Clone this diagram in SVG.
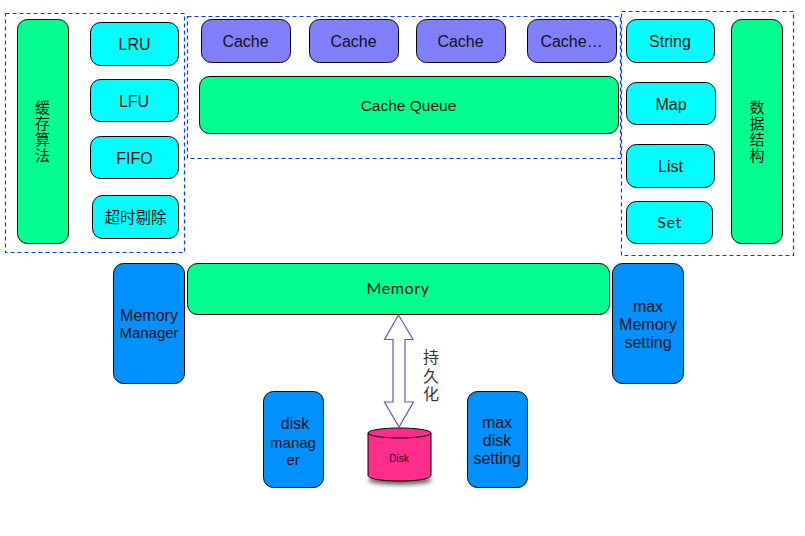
<svg xmlns="http://www.w3.org/2000/svg" width="805" height="536" viewBox="0 0 805 536">
<style>
.n{stroke:#000;stroke-width:1}
.g{fill:#00ff8f}.c{fill:#00ffff}.p{fill:#8080ff}.b{fill:#0090ff}
.d{fill:none;stroke:#0a33ff;stroke-width:1.2;stroke-dasharray:4 3}
text{font-family:"Liberation Sans","Noto Sans CJK SC",sans-serif;fill:#111;text-anchor:middle}
.t{font-size:16px}
.m{font-size:15px}
.z{font-family:"Noto Sans CJK SC","Liberation Sans",sans-serif;font-size:15px}
.v{font-family:"Noto Sans CJK SC","Liberation Sans",sans-serif;font-size:15px;writing-mode:vertical-rl;text-anchor:start;letter-spacing:1px}
.w{font-family:"Lato","Liberation Sans",sans-serif;font-size:16px;letter-spacing:.6px}
</style>
<defs>
<filter id="sh" x="-20%" y="-40%" width="140%" height="200%"><feGaussianBlur stdDeviation="2"/></filter>
</defs>
<rect width="805" height="536" fill="#fff"/>
<g id="frames">
<rect class="d" x="5.500" y="13.500" width="179" height="239"/>
<rect class="d" x="187.500" y="16.500" width="433" height="142"/>
<rect class="d" x="621.500" y="11.500" width="172" height="244"/>
</g>
<g id="connectors">
<path d="M398.500 315L413 339.500H405V402H413.500L399 427L384.500 402H393V339.500H384.500Z" fill="#fff" stroke="#6a58b0" stroke-width="1.200"/>
</g>
<g id="algo"><rect class="n g" x="17.500" y="19.500" width="51" height="224" rx="10"/>
<text class="v" x="42.500" y="100">缓存算法</text></g>
<g id="lru"><rect class="n c" x="90.500" y="22.500" width="88" height="43" rx="10"/><text class="t" x="134.500" y="50">LRU</text></g>
<g id="lfu"><rect class="n c" x="90.500" y="79.500" width="88" height="42" rx="10"/><text class="t" x="134" y="107">LFU</text></g>
<g id="fifo"><rect class="n c" x="90.500" y="136.500" width="88" height="42" rx="10"/><text class="t" x="134.500" y="164">FIFO</text></g>
<g id="timeout"><rect class="n c" x="92.500" y="195.500" width="86" height="43" rx="10"/><text class="z" x="135.500" y="223" style="font-size:15.500px">超时剔除</text></g>
<g id="cache1"><rect class="n p" x="201.500" y="19.500" width="89" height="43" rx="10"/><text class="t" x="245.500" y="47">Cache</text></g>
<g id="cache2"><rect class="n p" x="309.500" y="19.500" width="89" height="43" rx="10"/><text class="t" x="353.500" y="47">Cache</text></g>
<g id="cache3"><rect class="n p" x="416.500" y="19.500" width="89" height="43" rx="10"/><text class="t" x="460.500" y="47">Cache</text></g>
<g id="cache4"><rect class="n p" x="527.500" y="19.500" width="89" height="43" rx="10"/><text class="t" x="571.500" y="47">Cache…</text></g>
<g id="queue"><rect class="n g" x="199.500" y="76.500" width="419" height="57" rx="10"/><text class="t" x="408.500" y="111" style="font-size:15.500px">Cache Queue</text></g>
<g id="string"><rect class="n c" x="626.500" y="19.500" width="88" height="43" rx="10"/><text class="t" x="670" y="47">String</text></g>
<g id="map"><rect class="n c" x="626.500" y="82.500" width="89" height="42" rx="10"/><text class="t" x="671" y="110">Map</text></g>
<g id="list"><rect class="n c" x="626.500" y="144.500" width="88" height="43" rx="10"/><text class="t" x="670.500" y="172">List</text></g>
<g id="set"><rect class="n c" x="626.500" y="201.500" width="86" height="42" rx="10"/><text class="w" x="669.500" y="228">Set</text></g>
<g id="datastruct"><rect class="n g" x="731.500" y="19.500" width="51" height="224" rx="10"/>
<text class="v" x="757" y="100">数据结构</text></g>
<g id="memory"><rect class="n g" x="187.500" y="263.500" width="422" height="51" rx="10"/><text class="w" x="398" y="294">Memory</text></g>
<g id="memmgr"><rect class="n b" x="113.500" y="263.500" width="71" height="120" rx="10"/><text class="t" x="149" y="321">Memory</text><text class="m" x="149" y="338">Manager</text></g>
<g id="maxmem"><rect class="n b" x="612.500" y="263.500" width="71" height="120" rx="10"/><text class="t" x="648" y="312">max</text><text class="t" x="648" y="330">Memory</text><text class="t" x="648" y="348">setting</text></g>
<g id="persist"><text class="v" x="431" y="349" style="font-size:16px;fill:#333;letter-spacing:2.500px">持久化</text></g>
<g id="diskmgr"><rect class="n b" x="263.500" y="391.500" width="60" height="96" rx="10"/><text class="t" x="295" y="429">disk</text><text class="m" x="293" y="448">manag</text><text class="m" x="293" y="465">er</text></g>
<g id="disk">
<ellipse cx="400" cy="480" rx="32" ry="5" fill="#666" filter="url(#sh)"/>
<path class="n" d="M368 433V475C368 479 382 481 399.500 481S431 479 431 475V433Z" fill="#ff2d8c"/>
<ellipse class="n" cx="399.500" cy="433" rx="31.500" ry="5" fill="#ff2d8c"/>
<text x="399" y="462" font-size="10px">Disk</text></g>
<g id="maxdisk"><rect class="n b" x="467.500" y="391.500" width="60" height="96" rx="10"/><text class="t" x="497" y="428">max</text><text class="t" x="497" y="446">disk</text><text class="t" x="497" y="464">setting</text></g>
</svg>
